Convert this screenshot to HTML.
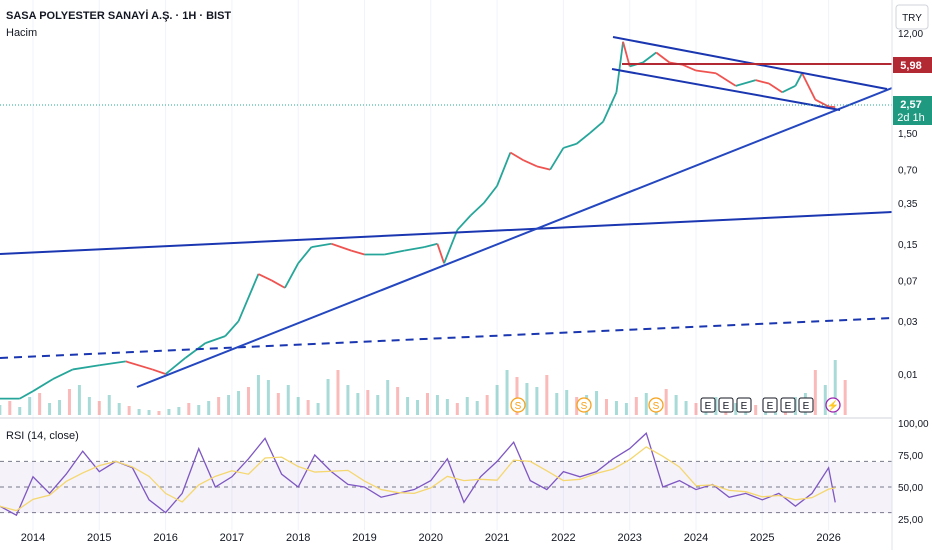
<!DOCTYPE html>
<html><head><meta charset="utf-8"><style>
body{margin:0;background:#fff;font-family:"Liberation Sans",sans-serif}
svg text{font-family:"Liberation Sans",sans-serif}
</style></head><body>
<svg id="c" width="932" height="550" viewBox="0 0 932 550">
<rect width="932" height="550" fill="#fff"/>
<g id="grid"></g>
<rect x="0" y="462" width="892" height="51" fill="#7e57c2" opacity="0.08"/>
<g id="vol"></g>
<g id="price"></g>
<g id="rsi"></g>
<g stroke="#1a36b0" stroke-width="2" fill="none">
<line x1="0" y1="254" x2="892" y2="212"/>
<line x1="0" y1="358" x2="892" y2="318" stroke-dasharray="8,6"/>
<line x1="137" y1="387" x2="892" y2="88" stroke="#2447c0"/>
<line x1="613" y1="37" x2="887" y2="89"/>
<line x1="612" y1="69" x2="840" y2="110"/>
<line x1="622" y1="64" x2="892" y2="64" stroke="#b22833"/>
<line x1="0" y1="105" x2="892" y2="105" stroke="#22ab94" stroke-width="1" stroke-dasharray="1,2"/>
</g>
<line x1="0" y1="418" x2="892" y2="418" stroke="#d0d3da"/>
<line x1="892" y1="0" x2="892" y2="550" stroke="#e0e3eb"/>
<g id="axes" font-size="11" fill="#131722"></g>
<text x="6" y="19" font-size="11" font-weight="bold" fill="#131722">SASA POLYESTER SANAYİ A.Ş. · 1H · BIST</text>
<text x="6" y="36" font-size="11" fill="#131722">Hacim</text>
<text x="6" y="439" font-size="11" fill="#131722">RSI (14, close)</text>
<rect x="896" y="5" width="32" height="24" rx="3" fill="#fff" stroke="#d0d3da"/>
<text x="912" y="21" font-size="10" text-anchor="middle" fill="#131722">TRY</text>
<rect x="893" y="57" width="39" height="16" fill="#b22833"/>
<text x="911" y="69" font-size="11" fill="#fff" text-anchor="middle" font-weight="bold">5,98</text>
<rect x="893" y="96" width="39" height="29" fill="#1f9a80"/>
<text x="911" y="108" font-size="11" fill="#fff" text-anchor="middle" font-weight="bold">2,57</text>
<text x="911" y="121" font-size="11" fill="#fff" text-anchor="middle">2d 1h</text>
<g id="events"></g>
</svg>
<script>
const yrs=[2013.5,2013.8,2014.0,2014.3,2014.6,2015.0,2015.4,2015.8,2016.0,2016.3,2016.6,2016.9,2017.1,2017.4,2017.6,2017.8,2018.0,2018.2,2018.5,2018.8,2019.0,2019.3,2019.6,2019.9,2020.1,2020.2,2020.4,2020.6,2020.8,2021.0,2021.2,2021.4,2021.6,2021.8,2022.0,2022.2,2022.4,2022.6,2022.8,2022.9,2023.0,2023.2,2023.4,2023.6,2023.8,2024.0,2024.3,2024.6,2024.9,2025.1,2025.3,2025.5,2025.6,2025.8,2026.0,2026.1];
const closes=[0.006,0.006,0.007,0.009,0.011,0.012,0.013,0.011,0.01,0.014,0.019,0.022,0.03,0.08,0.07,0.06,0.1,0.14,0.15,0.13,0.12,0.12,0.13,0.14,0.15,0.1,0.2,0.27,0.35,0.5,1.0,0.85,0.75,0.7,1.1,1.2,1.5,1.9,3.5,10,6,6.5,8,6.5,6.2,5.5,5.2,4,4.5,4.2,3.5,4,5.2,3,2.6,2.57];
const vols=[10,14,8,18,22,12,15,26,30,18,14,20,12,9,6,5,4,6,8,12,10,14,18,20,24,28,40,35,22,30,18,15,12,36,45,30,22,25,20,35,28,18,15,22,20,16,12,18,14,20,30,45,38,32,28,40,22,25,18,20,24,16,14,12,18,22,15,26,20,14,12,16,18,10,12,14,10,12,16,14,18,22,45,30,55,35];
const volStart=2013.5, volStep=0.15;
const rsiYrs=[2013.5,2013.75,2014,2014.25,2014.5,2014.75,2015,2015.25,2015.5,2015.75,2016,2016.25,2016.5,2016.75,2017,2017.25,2017.5,2017.75,2018,2018.25,2018.5,2018.75,2019,2019.25,2019.5,2019.75,2020,2020.25,2020.5,2020.75,2021,2021.25,2021.5,2021.75,2022,2022.25,2022.5,2022.75,2023,2023.25,2023.5,2023.75,2024,2024.25,2024.5,2024.75,2025,2025.25,2025.5,2025.75,2026,2026.1];
const rsiVals=[35,28,58,45,60,78,62,70,65,40,30,45,80,50,58,72,88,60,50,75,62,52,50,42,45,48,55,72,38,58,70,85,55,48,62,58,62,72,80,92,50,55,48,52,42,45,40,45,35,45,65,38];
const priceTicks=[12,3,1.5,0.7,0.35,0.15,0.07,0.03,0.01];
const priceTickLabels=["12,00","3,00","1,50","0,70","0,35","0,15","0,07","0,03","0,01"];
const rsiTicks=[100,75,50,25];
const rsiTickLabels=["100,00","75,00","50,00","25,00"];
const yearTicks=[2014,2015,2016,2017,2018,2019,2020,2021,2022,2023,2024,2025,2026];

const NS="http://www.w3.org/2000/svg";
const X=y=>33+(y-2014)*66.3;
const PY=p=>33+48.1*Math.log(12/p);
const RY=r=>487-(r-50)*1.28;
function mk(t,a,p){const e=document.createElementNS(NS,t);for(const k in a)e.setAttribute(k,a[k]);p.appendChild(e);return e;}
const grid=document.getElementById('grid'),axes=document.getElementById('axes');
yearTicks.forEach(y=>{
 const l=mk('line',{x1:X(y),x2:X(y),y1:0,y2:530,stroke:'#f0f3fa'},grid);
 
 
 const t=mk('text',{x:X(y),y:541,'text-anchor':'middle'},axes);t.textContent=y;
 
 
});
priceTicks.forEach((p,i)=>{
 const t=mk('text',{x:898,y:PY(p)+4,'font-size':'10'},axes);t.textContent=priceTickLabels[i];
 
 
});
rsiTicks.forEach((r,i)=>{
 const t=mk('text',{x:898,y:RY(r)+4,'font-size':'10'},axes);t.textContent=rsiTickLabels[i];
 
 
});
[70,50,30].forEach(r=>{
 const l=mk('line',{x1:0,x2:892,y1:RY(r),y2:RY(r),stroke:'#787b86','stroke-dasharray':'4,4'},grid);
 
 
});
const vg=document.getElementById('vol');
vols.forEach((v,i)=>{
 const up=i%3!==1;
 const r=mk('rect',{x:X(volStart+i*volStep)-1.5,y:415-v,width:3,height:v,fill:up?'#26a69a':'#ef5350',opacity:0.4},vg);
 
 
});
const pg=document.getElementById('price');
for(let i=1;i<closes.length;i++){
 const o=closes[i-1],c=closes[i],up=c>=o;
 const r=mk('line',{x1:X(yrs[i-1]),y1:PY(o),x2:X(yrs[i]),y2:PY(c),stroke:up?'#26a69a':'#ef5350','stroke-width':1.8},pg);
 
 
}
const rg=document.getElementById('rsi');
const rl=mk('polyline',{points:rsiYrs.map((y,i)=>X(y)+','+RY(rsiVals[i])).join(' '),fill:'none',stroke:'#7e57c2','stroke-width':1.3},rg);


const ma=rsiVals.map((v,i)=>{const s=rsiVals.slice(Math.max(0,i-2),i+1);return s.reduce((a,b)=>a+b,0)/s.length;});
const ml=mk('polyline',{points:rsiYrs.map((y,i)=>X(y)+','+RY(ma[i])).join(' '),fill:'none',stroke:'#f5d76e','stroke-width':1.3},rg);


const eg=document.getElementById('events');
[518,584,656].forEach(x=>{
 const c=mk('circle',{cx:x,cy:405,r:7,fill:'#fff',stroke:'#f7a21b','stroke-width':1.3},eg);
 
 
 const t=mk('text',{x:x,y:409,'font-size':'10','text-anchor':'middle',fill:'#f7a21b'},eg);t.textContent='S';
});
[708,726,744,770,788,806].forEach(x=>{
 const c=mk('rect',{x:x-7,y:398,width:14,height:14,rx:2,fill:'#fff',stroke:'#131722'},eg);
 
 
 const t=mk('text',{x:x,y:409,'font-size':'10','text-anchor':'middle',fill:'#131722'},eg);t.textContent='E';
});
const lc=mk('circle',{cx:833,cy:405,r:7,fill:'#fff',stroke:'#9c27b0','stroke-width':1.3},eg);


const lt=mk('text',{x:833,y:409,'font-size':'10','text-anchor':'middle',fill:'#9c27b0'},eg);lt.textContent='⚡';
</script>
</body></html>
